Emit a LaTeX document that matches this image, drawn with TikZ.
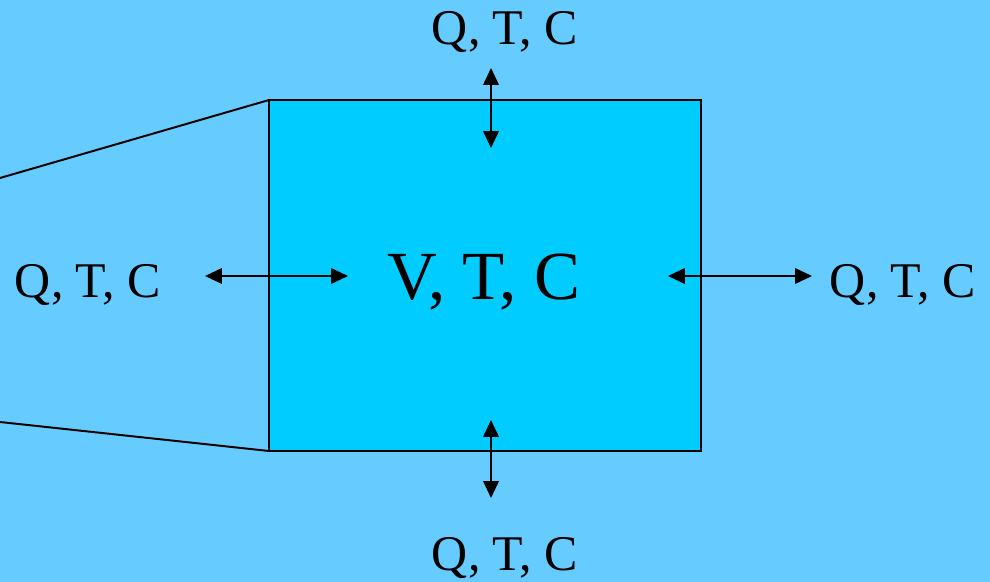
\documentclass[tikz,border=0pt]{standalone}
\usepackage{fontspec}
\setmainfont{Liberation Serif}
\usetikzlibrary{arrows.meta}
\definecolor{skyback}{HTML}{66CCFF}
\definecolor{cellfill}{HTML}{00CCFF}
\begin{document}
\begin{tikzpicture}[x=0.025cm, y=-0.025cm, >={Triangle[length=12pt,width=11pt]},
    flux/.style={<->, line width=1.4pt},
    lab/.style={anchor=base, inner sep=0pt, font=\fontsize{35.5}{42}\selectfont}]
    % --- background ---
    \fill[skyback] (0,0) rectangle (990,582);
    \useasboundingbox (0,0) rectangle (990,582);
    % --- pipe walls into the cell ---
    \draw[line width=1.4pt] (0,178) -- (269,100);
    \draw[line width=1.4pt] (0,422) -- (269,451);
    % --- control volume ---
    \draw[line width=1.4pt, fill=cellfill] (269,100) rectangle (701,451);
    \node[anchor=base, inner sep=0pt, font=\fontsize{49}{58}\selectfont] (cell) at (484,300) {V, T, C};
    % --- exchanges ---
    \node[lab] (qtop) at (505,45) {Q, T, C};
    \node[lab] (qbot) at (505,570) {Q, T, C};
    \node[lab] (qleft) at (88,298) {Q, T, C};
    \node[lab] (qright) at (903,298) {Q, T, C};
    \coordinate (t1) at (491,68);  \coordinate (t2) at (491,148);
    \coordinate (b1) at (491,420); \coordinate (b2) at (491,498);
    \coordinate (l1) at (205,276); \coordinate (l2) at (348,276);
    \coordinate (r1) at (668,276); \coordinate (r2) at (812,276);
    \draw[flux] (t1) -- (t2);
    \draw[flux] (b1) -- (b2);
    \draw[flux] (l1) -- (l2);
    \draw[flux] (r1) -- (r2);
\end{tikzpicture}
\end{document}
